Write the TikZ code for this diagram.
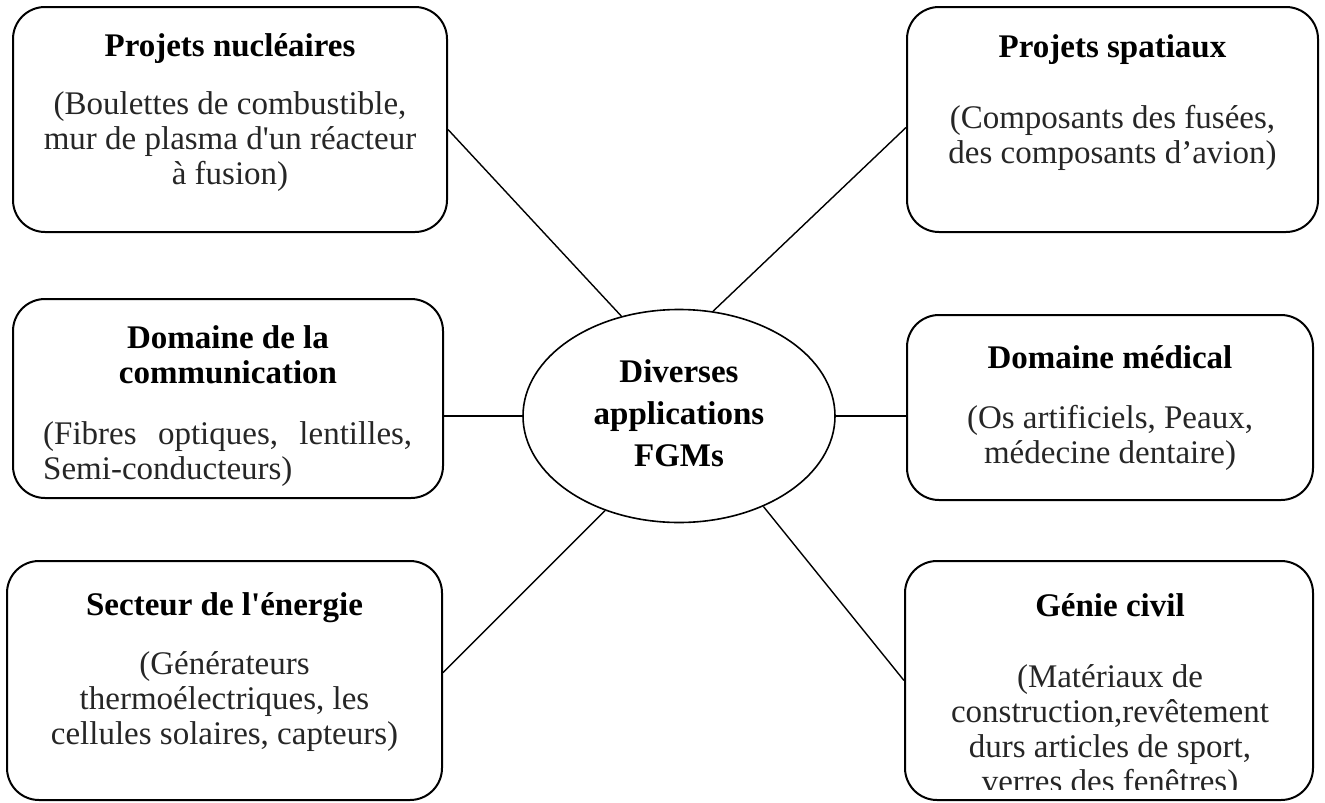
\documentclass[tikz,border=0pt]{standalone}
\usepackage{fontspec}
\setmainfont{Liberation Serif}
\usetikzlibrary{shapes.geometric,calc}
\begin{document}
\begin{tikzpicture}[x=1pt,y=-1pt,
  box/.style={draw, line width=2pt, rounded corners=32pt, inner sep=0pt},
  hub/.style={draw, ellipse, line width=1.6pt, inner sep=0pt, minimum width=312pt, minimum height=213pt,
    font=\bfseries\fontsize{33}{42}\selectfont},
  ttl/.style={inner sep=0pt, anchor=base, font=\bfseries\fontsize{33}{35}\selectfont},
  bdy/.style={inner sep=0pt, anchor=base, text=black!85, font=\fontsize{33}{35}\selectfont},
  link/.style={line width=1.4pt}]
\useasboundingbox (0,0) rectangle (1325,803);

% boxes
\node[box, minimum width=434pt, minimum height=225pt] (b1) at (230,119.5) {};
\node[box, minimum width=411pt, minimum height=225pt] (b2) at (1112.5,119.5) {};
\node[box, minimum width=430pt, minimum height=199pt] (b3) at (228,398.5) {};
\node[box, minimum width=406pt, minimum height=185pt] (b4) at (1110,407.5) {};
\node[box, minimum width=435pt, minimum height=239pt] (b5) at (224.5,680.5) {};
\node[box, minimum width=408pt, minimum height=239pt] (b6) at (1109,680.5) {};

% hub
\node[hub] (c) at (679,416) {\begin{tabular}{@{}c@{}}Diverses\\applications\\FGMs\end{tabular}};

% connectors
\draw[link] ($(b1.east)+(0,10)$) -- (c.120);
\draw[link] ($(b2.west)+(0,8)$) -- (c.72);
\draw[link] (c.west -| b3.east) -- (c.west);
\draw[link] (c.east) -- (c.east -| b4.west);
\draw[link] ($(b5.east)+(0,-8)$) -- (c.232);
\draw[link] (b6.west) -- (c.313);

% texts
\node[ttl] (t1) at (230,56) {Projets nucléaires};
\node[bdy] (d1) at (230,114) {\begin{tabular}[t]{@{}c@{}}(Boulettes de combustible,\\mur de plasma d\textquotesingle un réacteur\\à fusion)\end{tabular}};

\node[ttl] (t2) at (1112.5,57) {Projets spatiaux};
\node[bdy] (d2) at (1112.5,128) {\begin{tabular}[t]{@{}c@{}}(Composants des fusées,\\des composants d’avion)\end{tabular}};

\node[ttl] (t3) at (228,348) {\begin{tabular}[t]{@{}c@{}}Domaine de la\\communication\end{tabular}};
\node[bdy, anchor=base west] (d3) at (43,444) {\begin{tabular}[t]{@{}l@{}}\hbox to 369pt{(Fibres\hfill optiques,\hfill lentilles,}\\Semi-conducteurs)\end{tabular}};

\node[ttl] (t4) at (1110,368) {Domaine médical};
\node[bdy] (d4) at (1110,428) {\begin{tabular}[t]{@{}c@{}}(Os artificiels, Peaux,\\médecine dentaire)\end{tabular}};

\node[ttl] (t5) at (224.5,615) {Secteur de l\textquotesingle énergie};
\node[bdy] (d5) at (224.5,674) {\begin{tabular}[t]{@{}c@{}}(Générateurs\\thermoélectriques, les\\cellules solaires, capteurs)\end{tabular}};

\node[ttl] (t6) at (1110,616) {Génie civil};
\begin{scope}
\clip (905,600) rectangle (1313,789);
\node[bdy] (d6) at (1110,687) {\begin{tabular}[t]{@{}c@{}}(Matériaux de\\construction,revêtement\\durs articles de sport,\\verres des fenêtres)\end{tabular}};
\end{scope}
\end{tikzpicture}
\end{document}
